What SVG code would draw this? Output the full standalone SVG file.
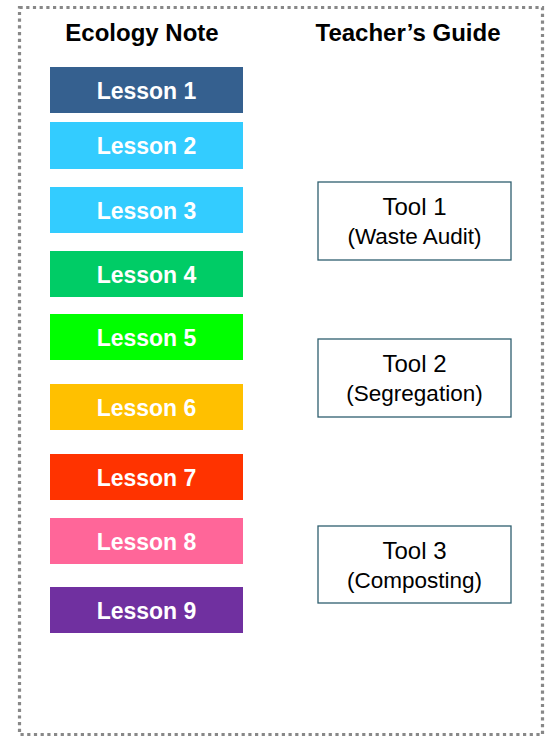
<svg xmlns="http://www.w3.org/2000/svg" width="550" height="737" viewBox="0 0 550 737">
<style>
.title{font-family:"Liberation Sans",Arial,sans-serif;font-weight:bold;font-size:24px;fill:#000;text-anchor:middle}
.lesson rect{stroke:none}
.lesson text{font-family:"Liberation Sans",Arial,sans-serif;font-weight:bold;font-size:23px;fill:#fff;text-anchor:middle}
.tool rect{fill:#fff;stroke:#2F5F6F;stroke-width:1.3}
.tool text{font-family:"Liberation Sans",Arial,sans-serif;fill:#000;text-anchor:middle}
.t1{font-size:24px}
.t2{font-size:22.5px}
</style>
<rect x="19.5" y="7.5" width="523" height="727" fill="none" stroke="#888" stroke-width="3.2" stroke-dasharray="3.2 3.5"/>
<text class="title" x="142" y="41">Ecology Note</text>
<text class="title" x="408" y="41">Teacher’s Guide</text>
<g id="lesson1" class="lesson"><rect x="50" y="67" width="193" height="46" fill="#35608F"/><text x="146.5" y="99">Lesson 1</text></g>
<g id="lesson2" class="lesson"><rect x="50" y="122" width="193" height="47" fill="#33CCFF"/><text x="146.5" y="154">Lesson 2</text></g>
<g id="lesson3" class="lesson"><rect x="50" y="187" width="193" height="46" fill="#33CCFF"/><text x="146.5" y="219">Lesson 3</text></g>
<g id="lesson4" class="lesson"><rect x="50" y="251" width="193" height="46" fill="#00CC66"/><text x="146.5" y="283">Lesson 4</text></g>
<g id="lesson5" class="lesson"><rect x="50" y="314" width="193" height="46" fill="#00FF00"/><text x="146.5" y="346">Lesson 5</text></g>
<g id="lesson6" class="lesson"><rect x="50" y="384" width="193" height="46" fill="#FFC000"/><text x="146.5" y="416">Lesson 6</text></g>
<g id="lesson7" class="lesson"><rect x="50" y="454" width="193" height="46" fill="#FF3300"/><text x="146.5" y="486">Lesson 7</text></g>
<g id="lesson8" class="lesson"><rect x="50" y="518" width="193" height="46" fill="#FF6699"/><text x="146.5" y="550">Lesson 8</text></g>
<g id="lesson9" class="lesson"><rect x="50" y="587" width="193" height="46" fill="#7030A0"/><text x="146.5" y="619">Lesson 9</text></g>
<g id="tool1" class="tool"><rect x="318" y="182" width="193" height="78"/><text class="t1" x="414.5" y="215">Tool 1</text><text class="t2" x="414.5" y="244">(Waste Audit)</text></g>
<g id="tool2" class="tool"><rect x="318" y="339" width="193" height="78"/><text class="t1" x="414.5" y="372">Tool 2</text><text class="t2" x="414.5" y="401">(Segregation)</text></g>
<g id="tool3" class="tool"><rect x="318" y="526" width="193" height="77"/><text class="t1" x="414.5" y="559">Tool 3</text><text class="t2" x="414.5" y="588">(Composting)</text></g>
<g id="connectors"></g>
</svg>
